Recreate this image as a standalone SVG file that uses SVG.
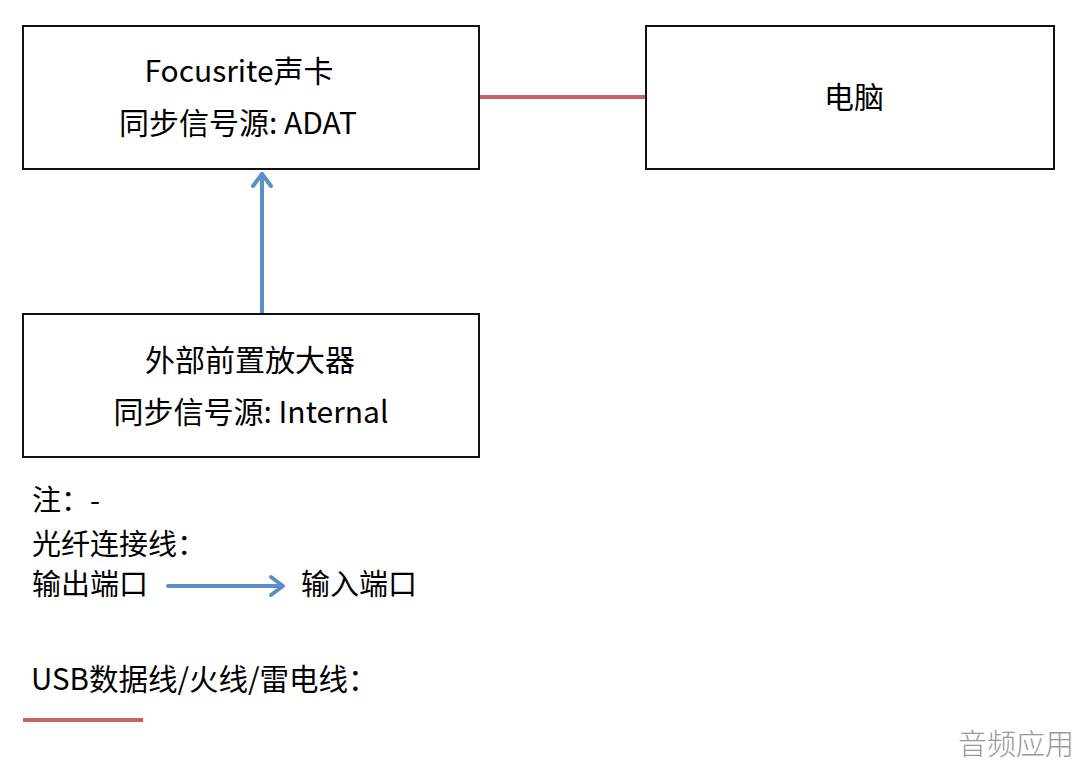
<svg xmlns="http://www.w3.org/2000/svg" width="1080" height="764" viewBox="0 0 1080 764">
<style>
.box{fill:#fff;stroke:#111;stroke-width:2}
.t{font-family:"Noto Sans CJK SC","Noto Sans",sans-serif;font-size:29px;fill:#000}
.b{font-size:30px}
.c{text-anchor:middle}
.red{stroke:#cc625d;stroke-width:4;fill:none}
.blue{stroke:#5b8fc8;stroke-width:4;fill:none;stroke-linecap:round;stroke-linejoin:round}
</style>
<rect width="1080" height="764" fill="#fff"/>
<g id="connectors">
<line class="red" x1="479" y1="97" x2="646" y2="97"/>
<line class="blue" x1="262" y1="313" x2="262" y2="174"/>
<polyline class="blue" points="253,186 262,174 271,186"/>
</g>
<g id="focusrite">
<rect class="box" x="23" y="26" width="456" height="143"/>
<text class="t b c" x="239" y="82">Focusrite声卡</text>
<text class="t b c" x="238" y="134">同步信号源: ADAT</text>
</g>
<g id="computer">
<rect class="box" x="646" y="26" width="408" height="143"/>
<text class="t b c" x="854" y="108">电脑</text>
</g>
<g id="preamp">
<rect class="box" x="23" y="314" width="456" height="143"/>
<text class="t b c" x="250" y="371">外部前置放大器</text>
<text class="t b c" x="251" y="423">同步信号源: Internal</text>
</g>
<g id="legend">
<text class="t" x="32" y="511">注：-</text>
<text class="t" x="32" y="555">光纤连接线：</text>
<text class="t" x="32" y="595">输出端口</text>
<line class="blue" x1="168" y1="586" x2="282" y2="586"/>
<polyline class="blue" points="271,577 283,586 271,595"/>
<text class="t" x="301" y="595">输入端口</text>
<text class="t" x="31" y="690" style="font-size:29.5px">USB数据线/火线/雷电线：</text>
<line class="red" x1="23" y1="720" x2="143" y2="720"/>
</g>
<text x="1074" y="755" text-anchor="end" style="font-family:'Noto Sans CJK SC',sans-serif;font-size:29px;font-weight:300;fill:#999">音频应用</text>
</svg>
